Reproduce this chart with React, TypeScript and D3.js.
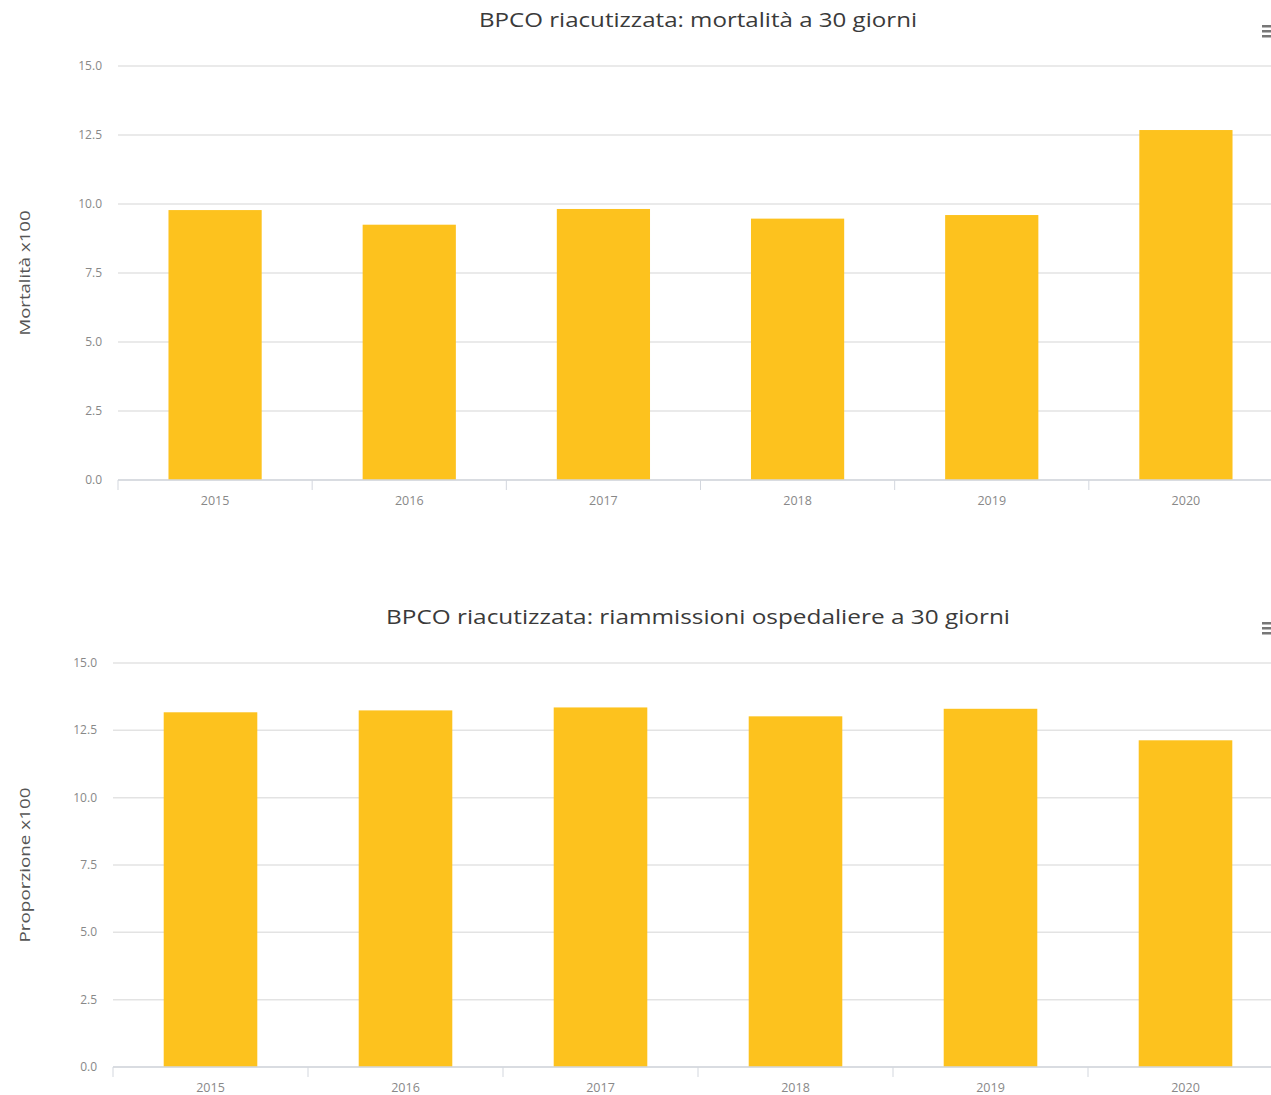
import React from "react";
import * as d3 from "d3";

const years = ["2015", "2016", "2017", "2018", "2019", "2020"];
const mortalita = [9.78, 9.25, 9.82, 9.47, 9.6, 12.68];
const riammissioni = [13.17, 13.24, 13.35, 13.02, 13.3, 12.13];
const yTicks = [0, 2.5, 5, 7.5, 10, 12.5, 15];
const title1 = "BPCO riacutizzata: mortalità a 30 giorni";
const title2 = "BPCO riacutizzata: riammissioni ospedaliere a 30 giorni";
const yLabel1 = "Mortalità x100";
const yLabel2 = "Proporzione x100";

const FONT = "'Open Sans', Lato, sans-serif";
const BAR = "#FDC21E";

type ChartProps = {
  title: string;
  titleWidth: number;
  yLabel: string;
  yLabelWidth: number;
  values: number[];
  titleY: number;
  top: number;
  bottom: number;
  left: number;
};

function BarChart({ title, titleWidth, yLabel, yLabelWidth, values, titleY, top, bottom, left }: ChartProps) {
  const right = 1283;
  const x = d3.scaleBand<string>().domain(years).range([left, right]).paddingInner(0.52).paddingOuter(0.26);
  const y = d3.scaleLinear().domain([0, 15]).range([bottom, top]);
  const step = x.step();
  const boundaries = d3.range(years.length + 1).map((i) => left + i * step);
  return (
    <g>
      <text
        x={698}
        y={titleY}
        textAnchor="middle"
        fontFamily={FONT}
        fontSize={20}
        fill="#3a3a3a"
        textLength={titleWidth}
        lengthAdjust="spacingAndGlyphs"
      >
        {title}
      </text>
      <text
        transform={`translate(30,${(top + bottom) / 2}) rotate(-90)`}
        textAnchor="middle"
        fontFamily={FONT}
        fontSize={15}
        fill="#555"
        textLength={yLabelWidth}
        lengthAdjust="spacingAndGlyphs"
      >
        {yLabel}
      </text>
      {yTicks.map((t) => (
        <g key={t}>
          <line x1={left} x2={1271} y1={y(t)} y2={y(t)} stroke="#e3e3e3" strokeWidth={1.5} />
          <text x={left - 16} y={y(t) + 4} textAnchor="end" fontFamily={FONT} fontSize={12} fill="#888">
            {d3.format(".1f")(t)}
          </text>
        </g>
      ))}
      {years.map((yr, i) => (
        <rect key={yr} x={x(yr)} y={y(values[i])} width={x.bandwidth()} height={y(0) - y(values[i])} fill={BAR} />
      ))}
      <line x1={left} x2={1271} y1={y(0)} y2={y(0)} stroke="#d3d7de" strokeWidth={1.5} />
      {boundaries.map((b, i) => (
        <line key={i} x1={b} x2={b} y1={y(0)} y2={y(0) + 10} stroke="#d3d7de" strokeWidth={1} />
      ))}
      {years.map((yr) => (
        <text key={yr} x={(x(yr) as number) + x.bandwidth() / 2} y={y(0) + 25} textAnchor="middle" fontFamily={FONT} fontSize={12.5} fill="#888">
          {yr}
        </text>
      ))}
      <g fill="#777">
        <rect x={1262} y={titleY - 2} width={10} height={2.5} />
        <rect x={1262} y={titleY + 3} width={10} height={2.5} />
        <rect x={1262} y={titleY + 8} width={10} height={2.5} />
      </g>
    </g>
  );
}

export default function App() {
  return (
    <svg width={1271} height={1095} style={{ position: "absolute", left: 0, top: 0, background: "#fff" }}>
      <rect width={1271} height={1095} fill="#fff" />
      <BarChart
        title={title1}
        titleWidth={438}
        yLabel={yLabel1}
        yLabelWidth={125}
        values={mortalita}
        titleY={27}
        top={66}
        bottom={480}
        left={118}
      />
      <BarChart
        title={title2}
        titleWidth={624}
        yLabel={yLabel2}
        yLabelWidth={155}
        values={riammissioni}
        titleY={624}
        top={663}
        bottom={1067}
        left={113}
      />
    </svg>
  );
}
